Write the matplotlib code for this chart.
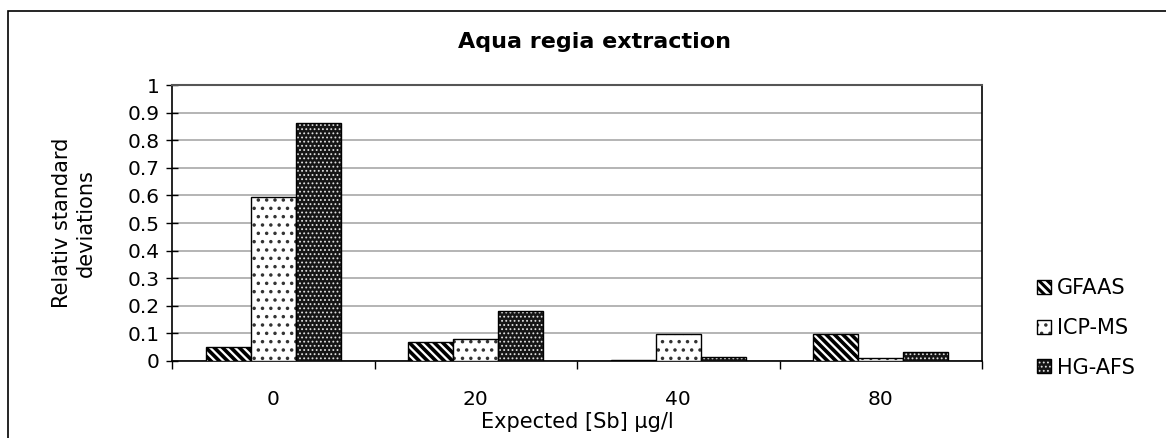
import numpy as np
import matplotlib.pyplot as plt
from matplotlib.patches import Patch, Rectangle
from matplotlib.legend_handler import HandlerTuple

plt.rcParams['font.family'] = ['DejaVu Sans']

categories = ['0', '20', '40', '80']
gfaas = [0.05, 0.07, 0.004, 0.097]
icpms = [0.593, 0.078, 0.099, 0.011]
hgafs = [0.861, 0.18, 0.013, 0.033]

fig = plt.figure(figsize=(11.66, 4.38), dpi=100)
ax = fig.add_axes([172 / 1166, 77 / 438, 810 / 1166, 276 / 438])

# outer chart frame
fig.patches.append(Rectangle((8 / 1166, -0.1), 1.2, 427 / 438 + 0.1,
                             transform=fig.transFigure, fill=False,
                             edgecolor='black', linewidth=1.2))

x = np.arange(len(categories))
w = 1 / 4.5

stripe = dict(facecolor='white', edgecolor='black', hatch='\\\\\\\\')
dots = dict(facecolor='white', edgecolor='#333333', hatch='..')
dense = dict(facecolor='#151515', edgecolor='#e0e0e0', hatch='....')
outline = dict(fill=False, edgecolor='black', linewidth=1)

with plt.rc_context({'hatch.linewidth': 2.6}):
    ax.bar(x - w, gfaas, w, linewidth=1, zorder=3, **stripe)
with plt.rc_context({'hatch.linewidth': 1.3}):
    ax.bar(x, icpms, w, linewidth=0, zorder=3, **dots)
with plt.rc_context({'hatch.linewidth': 0.8}):
    ax.bar(x + w, hgafs, w, linewidth=0, zorder=3, **dense)
ax.bar(x, icpms, w, zorder=4, **outline)
ax.bar(x + w, hgafs, w, zorder=4, **outline)

ax.set_xlim(-0.5, len(categories) - 0.5)
ax.set_ylim(0, 1)
ax.set_yticks(np.arange(0, 1.01, 0.1))
ax.set_yticklabels(['0', '0.1', '0.2', '0.3', '0.4', '0.5', '0.6', '0.7',
                    '0.8', '0.9', '1'])
ax.yaxis.grid(True, color='#a0a0a0', linewidth=1.1, zorder=0)
ax.tick_params(axis='y', direction='inout', length=8, width=1,
               labelsize=14.5, pad=5)

ax.set_xticks(x)
ax.set_xticklabels(categories)
ax.set_xticks(np.arange(-0.5, len(categories)), minor=True)
ax.tick_params(axis='x', which='major', length=0, labelsize=14.5, pad=21)
ax.tick_params(axis='x', which='minor', direction='out', length=6, width=1)

for s in ['left', 'bottom', 'right']:
    ax.spines[s].set_color('black')
    ax.spines[s].set_linewidth(1.2)
ax.spines['top'].set_color('#555555')
ax.spines['top'].set_linewidth(1.5)

fig.text(594 / 1166, 1 - 42 / 438, 'Aqua regia extraction', fontsize=16,
         fontweight='bold', ha='center', va='center')
ax.set_xlabel('Expected [Sb] µg/l', fontsize=15, labelpad=2)
ax.set_ylabel('Relativ standard\ndeviations', fontsize=15, labelpad=23)

h1 = Patch(linewidth=1, **stripe)
h2 = (Patch(linewidth=0, **dots), Patch(**outline))
h3 = (Patch(linewidth=0, **dense), Patch(**outline))
leg = ax.legend([h1, h2, h3], ['GFAAS', 'ICP-MS', 'HG-AFS'],
                handler_map={tuple: HandlerTuple(ndivide=1, pad=0)},
                loc='center left', bbox_to_anchor=(1.068, 0.12),
                frameon=False, borderpad=0, borderaxespad=0,
                fontsize=15, handlelength=0.65, handleheight=0.65,
                handletextpad=0.3, labelspacing=0.95)

# legend keys get their own hatch widths
for art in leg.findobj(Rectangle):
    if not hasattr(art, 'set_hatch_linewidth') or art.get_hatch() is None:
        continue
    if art.get_hatch().startswith('\\'):
        art.set_hatch_linewidth(2.2)
    elif art.get_hatch() == '..':
        art.set_hatch_linewidth(1.3)
    else:
        art.set_hatch_linewidth(0.8)

fig.savefig('out.png', dpi=100)
